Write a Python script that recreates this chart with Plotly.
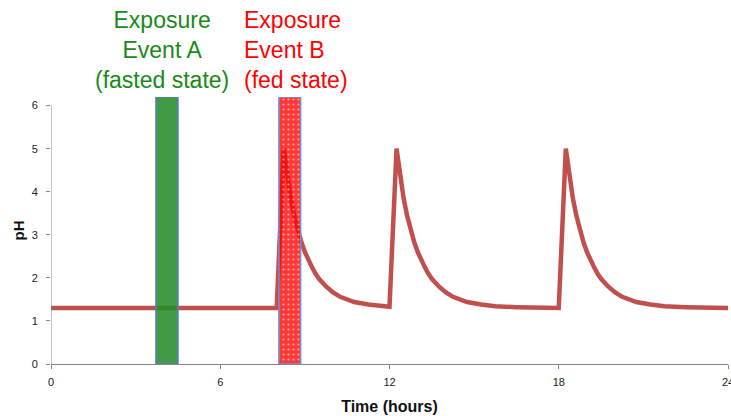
import plotly.graph_objects as go

# pH profile over time (hours)
time_h = [0, 8.0,
          8.25, 8.375, 8.5, 8.625, 8.75, 8.875, 9.0, 9.125, 9.25, 9.375, 9.5, 9.75, 10.0, 10.25, 10.5, 10.75, 11.25, 11.75, 12.0,
          12.25, 12.375, 12.5, 12.625, 12.75, 12.875, 13.0, 13.125, 13.25, 13.375, 13.5, 13.75, 14.0, 14.25, 14.5, 14.75, 15.25, 15.75, 16.5, 17.25, 18.0,
          18.25, 18.375, 18.5, 18.625, 18.75, 18.875, 19.0, 19.125, 19.25, 19.375, 19.5, 19.75, 20.0, 20.25, 20.5, 20.75, 21.25, 21.75, 22.5, 23.25, 24.0]
ph = [1.3, 1.3,
      5.0, 4.38, 3.85, 3.44, 3.1, 2.83, 2.6, 2.41, 2.25, 2.1, 1.98, 1.8, 1.66, 1.56, 1.49, 1.44, 1.38, 1.34, 1.33,
      5.0, 4.38, 3.85, 3.44, 3.1, 2.83, 2.6, 2.41, 2.25, 2.1, 1.98, 1.8, 1.66, 1.56, 1.49, 1.44, 1.38, 1.34, 1.32, 1.31, 1.3,
      5.0, 4.38, 3.85, 3.44, 3.1, 2.83, 2.6, 2.41, 2.25, 2.1, 1.98, 1.8, 1.66, 1.56, 1.49, 1.44, 1.38, 1.34, 1.32, 1.31, 1.3]

# exposure events: [start, end] in hours, bar height in pH units
event_a = [3.72, 4.5]
event_b = [8.08, 8.85]
event_top = 6.2

x_ticks = [0, 6, 12, 18, 24]
y_ticks = [0, 1, 2, 3, 4, 5, 6]

fig = go.Figure()

fig.add_trace(go.Scatter(
    x=time_h, y=ph, mode="lines",
    line=dict(color="#C0504D", width=4.5),
    hoverinfo="skip", showlegend=False,
))

def rect(x):
    return dict(x=[x[0], x[1], x[1], x[0], x[0]], y=[0, 0, event_top, event_top, 0])

ra = rect(event_a)
fig.add_trace(go.Scatter(
    x=ra["x"], y=ra["y"], mode="lines", fill="toself",
    fillcolor="rgba(40,140,40,0.88)",
    line=dict(color="#4F81BD", width=1.5),
    showlegend=False, hoverinfo="skip",
))
rb = rect(event_b)
fig.add_trace(go.Scatter(
    x=rb["x"], y=rb["y"], mode="lines", fill="toself",
    fillcolor="rgba(255,0,0,0.78)",
    fillpattern=dict(shape=".", fgcolor="rgba(255,255,255,0.55)", bgcolor="rgba(255,0,0,0.78)",
                     size=5, solidity=0.15, fillmode="replace"),
    line=dict(color="#6F90D0", width=1.5),
    showlegend=False, hoverinfo="skip",
))

# y axis line only up to 6
fig.add_shape(type="line", xref="x", yref="y", x0=0, x1=0, y0=0, y1=y_ticks[-1],
              line=dict(color="#868686", width=1))

fig.add_annotation(text="Exposure<br>Event A<br>(fasted state)", x=4.0, y=1.0,
                   xref="x", yref="paper", yanchor="bottom", yshift=2, xshift=-2, showarrow=False,
                   align="center", font=dict(family="Liberation Sans, Arial", size=23, color="#178A17"))
fig.add_annotation(text="Exposure<br>Event B<br>(fed state)", x=6.9, y=1.0,
                   xref="x", yref="paper", xanchor="left", yanchor="bottom", yshift=2, xshift=-4, showarrow=False,
                   align="left", font=dict(family="Liberation Sans, Arial", size=23, color="#FF0000"))

fig.update_layout(
    width=731, height=416,
    margin=dict(l=51, r=3, t=97, b=52, autoexpand=False),
    paper_bgcolor="white", plot_bgcolor="white",
    font=dict(family="Liberation Sans, Arial", size=11, color="#222222"),
    xaxis=dict(range=[0, 24], tickvals=x_ticks, ticks="outside", ticklen=4, tickcolor="#868686",
               showline=True, linecolor="#868686", linewidth=1, showgrid=False, zeroline=False,
               ticklabelstandoff=4, ticklabeloverflow="allow", automargin=False,
               title=dict(text="<b>Time (hours)</b>", font=dict(size=16, color="#111111"), standoff=13)),
    yaxis=dict(range=[0, event_top], tickvals=y_ticks, ticks="outside", ticklen=4, tickcolor="#868686",
               showline=False, showgrid=False, zeroline=False, ticklabelstandoff=6, automargin=False,
               title=dict(text="<b>pH</b>", font=dict(size=15, color="#111111"), standoff=3)),
)

fig.write_html("out.html")
